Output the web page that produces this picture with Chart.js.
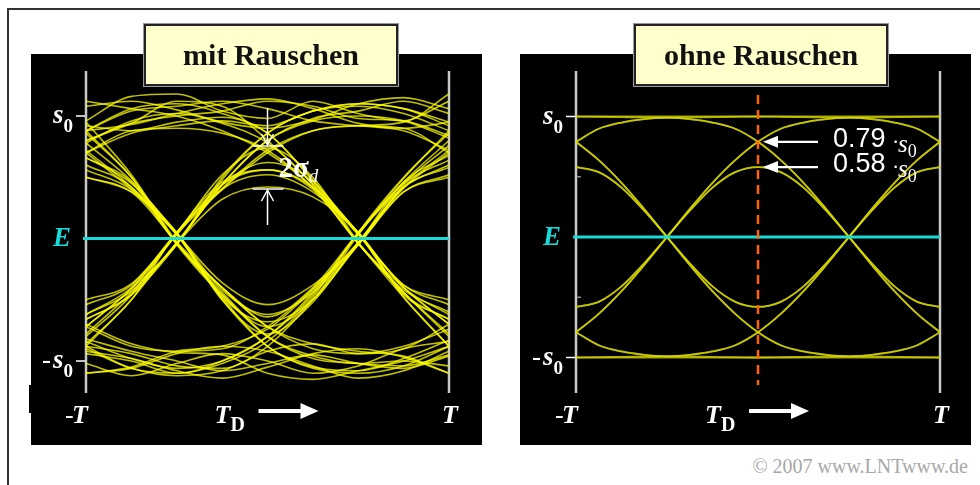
<!DOCTYPE html>
<html>
<head>
<meta charset="utf-8">
<title>Augendiagramm mit und ohne Rauschen</title>
<script src="https://cdn.jsdelivr.net/npm/chart.js"></script>
<style>
  body { margin: 0; background: #fff; }
  #page { position: relative; width: 980px; height: 485px; overflow: hidden; background: #fff; }
  .frame { position: absolute; left: 7px; top: 8px; width: 1000px; height: 500px; border-left: 2px solid #333; border-top: 2px solid #333; }
  .panel { position: absolute; top: 54px; width: 451px; height: 391px; background: #000; }
  .panel canvas { position: absolute; left: 0; top: 0; }
  .notch { position: absolute; left: 29px; top: 385px; width: 3px; height: 28px; background: #000; }
  .title { position: absolute; top: 24px; width: 250px; height: 58px; background: #ffffcc; border: 2px solid #222;
           box-shadow: 0 0 0 1px #999; font: bold 30px "Liberation Serif", serif; line-height: 58px;
           text-align: center; color: #111; z-index: 2; }
  .copy { position: absolute; right: 12px; top: 455px; font: 20px "Liberation Serif", serif; color: #a8a8a8; }
</style>
</head>
<body>
<div id="page">
  <div class="frame"></div>
  <div class="notch"></div>
  <div class="panel" style="left:31px"><canvas id="eyeNoisy" width="451" height="391"></canvas></div>
  <div class="panel" style="left:520px"><canvas id="eyeClean" width="451" height="391"></canvas></div>
  <div class="title" style="left:144px">mit Rauschen</div>
  <div class="title" style="left:634px">ohne Rauschen</div>
  <div class="copy">© 2007 www.LNTwww.de</div>
</div>
<script>
// time axis in units of T, amplitude in units of s0
const tNoisy = [-1, -0.75, -0.5, -0.25, 0, 0.25, 0.5, 0.75, 1];
const tClean = [-1, -0.875, -0.75, -0.625, -0.5, -0.375, -0.25, -0.125, 0,
                0.125, 0.25, 0.375, 0.5, 0.625, 0.75, 0.875, 1];
const timeTicks = [-1, 1];        // -T and T
const levelTicks = [1, -1];       // s0 and -s0
const minorTicks = [0.5, -0.5];
const thresholdE = 0;
const sampleTime = 0;             // T_D
const cleanMarks = [0.79, 0.58];  // eye values without noise
const noiseBand = [0.755, 0.404]; // 2 sigma_d marker

// traces with noise
const noisy01 = [1.08, 1.12, 1.05, 0.95, 0.90, 0.97, 1.10, 1.15, 1.06];
const noisy02 = [0.92, 0.88, 0.95, 0.99, 0.86, 0.47, 0.04, -0.45, -0.66];
const noisy03 = [0.86, 0.50, -0.04, -0.40, -0.64, -0.40, 0.05, 0.49, 0.88];
const noisy04 = [0.70, 0.40, 0.03, -0.50, -0.88, -1.05, -1.08, -0.98, -0.83];
const noisy05 = [-0.66, -0.46, -0.05, 0.50, 0.86, 1.04, 1.10, 1.06, 0.95];
const noisy06 = [-0.62, -0.40, 0.04, 0.52, 0.74, 0.50, -0.03, -0.42, -0.60];
const noisy07 = [-0.88, -1.06, -1.10, -1.02, -0.84, -0.48, 0.05, 0.50, 0.86];
const noisy08 = [-0.70, -0.86, -0.93, -0.95, -1.10, -1.15, -1.08, -1.00, -0.88];
const noisy09 = [-0.92, -0.98, -1.08, -1.14, -1.05, -0.94, -0.90, -0.97, -1.10];
const noisy10 = [-1.10, -1.05, -0.92, -0.88, -0.74, -0.42, -0.05, 0.38, 0.52];
const noisy11 = [-0.72, -0.41, 0.03, 0.44, 0.62, 0.46, -0.04, -0.40, -0.70];
const noisy12 = [-0.86, -0.50, 0.05, 0.41, 0.72, 0.88, 0.92, 0.90, 0.70];
const noisy13 = [0.50, 0.38, -0.03, -0.40, -0.72, -0.86, -0.92, -0.96, -1.10];
const noisy14 = [0.66, 0.46, -0.05, -0.46, -0.72, -0.50, 0.03, 0.45, 0.64];
const noisy15 = [0.70, 0.88, 0.90, 0.86, 0.72, 0.41, -0.04, -0.48, -0.88];
const noisy16 = [0.88, 1.04, 1.08, 1.12, 1.06, 0.96, 0.92, 0.88, 0.72];
const noisy17 = [0.88, 0.93, 1.02, 1.10, 1.14, 1.06, 0.94, 0.90, 0.95];
const noisy18 = [1.12, 1.06, 1.00, 0.88, 0.70, 0.42, 0.03, -0.38, -0.50];
const noisy19 = [0.72, 0.42, 0.05, -0.50, -0.78, -0.52, -0.03, 0.41, 0.70];
const noisy20 = [0.88, 0.50, -0.04, -0.40, -0.72, -0.90, -0.94, -0.88, -0.74];
const noisy21 = [-0.50, -0.37, 0.04, 0.40, 0.70, 0.88, 0.92, 0.95, 1.12];
const noisy22 = [-0.66, -0.46, -0.04, 0.32, 0.42, 0.34, 0.05, -0.46, -0.66];
const noisy23 = [-0.72, -0.88, -0.92, -0.90, -0.72, -0.41, -0.03, 0.42, 0.72];
const noisy24 = [-0.90, -1.06, -1.12, -1.08, -0.92, -0.86, -0.94, -0.90, -0.70];
const noisy25 = [-1.10, -1.06, -0.94, -0.88, -0.92, -1.04, -1.14, -1.08, -0.92];
const noisy26 = [-0.88, -0.94, -1.04, -1.06, -0.88, -0.50, -0.04, 0.46, 0.68];
const noisy27 = [-0.88, -0.50, -0.03, 0.40, 0.52, 0.38, 0.04, -0.48, -0.88];
const noisy28 = [-0.72, -0.41, -0.05, 0.48, 0.86, 1.04, 1.08, 1.02, 0.88];
const noisy29 = [0.66, 0.45, 0.04, -0.48, -0.88, -1.06, -1.10, -1.04, -0.88];
const noisy30 = [0.50, 0.38, 0.03, -0.48, -0.68, -0.50, -0.05, 0.38, 0.50];
const noisy31 = [0.88, 1.06, 1.10, 1.02, 0.86, 0.48, 0.04, -0.40, -0.70];
const noisy32 = [0.70, 0.86, 0.92, 0.96, 0.92, 1.04, 1.10, 1.06, 0.92];
const noisy33 = [0.96, 1.16, 1.18, 1.04, 0.98, 1.12, 1.02, 0.96, 1.18];
const noisy34 = [0.80, 0.94, 1.12, 1.08, 0.80, 0.44, 0.05, -0.40, -0.62];
const noisy35 = [0.78, 0.47, 0.04, -0.36, -0.54, -0.38, -0.04, 0.44, 0.76];
const noisy36 = [0.95, 0.52, -0.03, -0.46, -0.80, -0.98, -1.02, -1.04, -0.95];
const noisy37 = [-0.62, -0.43, -0.04, 0.44, 0.80, 0.98, 1.04, 1.12, 1.02];
const noisy38 = [-0.54, -0.38, 0.05, 0.44, 0.56, 0.42, 0.04, -0.38, -0.54];
const noisy39 = [-0.84, -0.98, -1.06, -1.00, -0.80, -0.44, 0.04, 0.46, 0.80];
const noisy40 = [-0.82, -0.92, -1.00, -1.08, -1.02, -0.95, -1.02, -1.06, -0.96];
const noisy41 = [-1.02, -1.12, -1.02, -0.94, -1.00, -1.10, -1.04, -0.90, -0.84];
const noisy42 = [-0.94, -1.00, -1.10, -1.00, -0.80, -0.46, 0.04, 0.42, 0.60];
const noisy43 = [-0.80, -0.46, 0.05, 0.46, 0.56, 0.40, -0.04, -0.44, -0.78];
const noisy44 = [-0.78, -0.44, -0.04, 0.44, 0.80, 0.96, 1.00, 0.96, 0.82];
const noisy45 = [0.60, 0.42, -0.04, -0.44, -0.80, -0.96, -1.02, -1.00, -1.04];
const noisy46 = [0.56, 0.40, 0.04, -0.42, -0.62, -0.44, -0.05, 0.42, 0.58];
const noisy47 = [0.78, 0.96, 1.02, 0.94, 0.78, 0.44, -0.04, -0.44, -0.80];
const noisy48 = [0.80, 0.94, 1.00, 1.04, 1.12, 1.08, 0.98, 0.96, 0.84];

// traces without noise (right picture)
const clean01 = [1, 1, 1, 1, 1, 1, 1, 1, 1, 1, 1, 1, 1, 1, 1, 1, 1];
const clean02 = [1.0, 0.998, 0.995, 0.992, 0.99, 0.978, 0.95, 0.898, 0.79, 0.638, 0.45, 0.232, 0, -0.218, -0.41, -0.538, -0.58];
const clean03 = [0.79, 0.638, 0.45, 0.232, 0, -0.218, -0.41, -0.538, -0.58, -0.538, -0.41, -0.218, 0, 0.232, 0.45, 0.638, 0.79];
const clean04 = [0.79, 0.638, 0.45, 0.232, 0, -0.232, -0.45, -0.638, -0.79, -0.898, -0.95, -0.978, -0.99, -0.978, -0.95, -0.898, -0.79];
const clean05 = [-0.58, -0.538, -0.41, -0.218, 0, 0.232, 0.45, 0.638, 0.79, 0.898, 0.95, 0.978, 0.99, 0.992, 0.995, 0.998, 1.0];
const clean06 = [-0.58, -0.538, -0.41, -0.218, 0, 0.218, 0.41, 0.538, 0.58, 0.538, 0.41, 0.218, 0, -0.218, -0.41, -0.538, -0.58];
const clean07 = [-0.79, -0.898, -0.95, -0.978, -0.99, -0.978, -0.95, -0.898, -0.79, -0.638, -0.45, -0.232, 0, 0.232, 0.45, 0.638, 0.79];
const clean08 = [-0.79, -0.898, -0.95, -0.978, -0.99, -0.992, -0.995, -0.998, -1.0, -0.998, -0.995, -0.992, -0.99, -0.978, -0.95, -0.898, -0.79];
const clean09 = [-1, -1, -1, -1, -1, -1, -1, -1, -1, -1, -1, -1, -1, -1, -1, -1, -1];
const clean10 = [-1.0, -0.998, -0.995, -0.992, -0.99, -0.978, -0.95, -0.898, -0.79, -0.638, -0.45, -0.232, 0, 0.218, 0.41, 0.538, 0.58];
const clean11 = [-0.79, -0.638, -0.45, -0.232, 0, 0.218, 0.41, 0.538, 0.58, 0.538, 0.41, 0.218, 0, -0.232, -0.45, -0.638, -0.79];
const clean12 = [-0.79, -0.638, -0.45, -0.232, 0, 0.232, 0.45, 0.638, 0.79, 0.898, 0.95, 0.978, 0.99, 0.978, 0.95, 0.898, 0.79];
const clean13 = [0.58, 0.538, 0.41, 0.218, 0, -0.232, -0.45, -0.638, -0.79, -0.898, -0.95, -0.978, -0.99, -0.992, -0.995, -0.998, -1.0];
const clean14 = [0.58, 0.538, 0.41, 0.218, 0, -0.218, -0.41, -0.538, -0.58, -0.538, -0.41, -0.218, 0, 0.218, 0.41, 0.538, 0.58];
const clean15 = [0.79, 0.898, 0.95, 0.978, 0.99, 0.978, 0.95, 0.898, 0.79, 0.638, 0.45, 0.232, 0, -0.232, -0.45, -0.638, -0.79];
const clean16 = [0.79, 0.898, 0.95, 0.978, 0.99, 0.992, 0.995, 0.998, 1.0, 0.998, 0.995, 0.992, 0.99, 0.978, 0.95, 0.898, 0.79];

const noisyTraces = [noisy01, noisy02, noisy03, noisy04, noisy05, noisy06, noisy07, noisy08,
  noisy09, noisy10, noisy11, noisy12, noisy13, noisy14, noisy15, noisy16,
  noisy17, noisy18, noisy19, noisy20, noisy21, noisy22, noisy23, noisy24,
  noisy25, noisy26, noisy27, noisy28, noisy29, noisy30, noisy31, noisy32,
  noisy33, noisy34, noisy35, noisy36, noisy37, noisy38, noisy39, noisy40,
  noisy41, noisy42, noisy43, noisy44, noisy45, noisy46, noisy47, noisy48];
const cleanTraces = [clean01, clean02, clean03, clean04, clean05, clean06, clean07, clean08,
  clean09, clean10, clean11, clean12, clean13, clean14, clean15, clean16];

const SERIF = '"Liberation Serif", serif';
const SANS = '"Liberation Sans", sans-serif';
const CYAN = '#19d9d9';

function seg(ctx, x1, y1, x2, y2) {
  ctx.beginPath();
  ctx.moveTo(x1, y1);
  ctx.lineTo(x2, y2);
  ctx.stroke();
}

// text with a subscript
function withIndex(ctx, base, idx, x, y, dy, baseFont, idxFont) {
  ctx.font = baseFont;
  ctx.fillText(base, x, y);
  const w = ctx.measureText(base).width;
  ctx.font = idxFont;
  ctx.fillText(idx, x + w, y + dy);
}

const eyeDecor = {
  id: 'eyeDecor',
  beforeDatasetsDraw(chart, args, opts) {
    const ctx = chart.ctx, a = chart.chartArea, xs = chart.scales.x, ys = chart.scales.y;
    const ax = xs.getPixelForValue(timeTicks[0]);
    ctx.save();
    ctx.strokeStyle = '#c8c8c8';
    ctx.lineWidth = 2.5;
    timeTicks.forEach(function (v) {
      const px = xs.getPixelForValue(v);
      seg(ctx, px, a.top, px, a.bottom);
    });
    ctx.strokeStyle = '#ffffff';
    ctx.lineWidth = 1.5;
    levelTicks.forEach(function (v) {
      const py = ys.getPixelForValue(v);
      seg(ctx, ax - 10, py, ax - 1, py);
    });
    if (opts.minor) {
      ctx.strokeStyle = '#8a8a8a';
      minorTicks.forEach(function (v) {
        const py = ys.getPixelForValue(v);
        seg(ctx, ax + 1, py, ax + 5, py);
      });
    }
    ctx.restore();
  },
  afterDatasetsDraw(chart, args, opts) {
    const ctx = chart.ctx, a = chart.chartArea, xs = chart.scales.x, ys = chart.scales.y;
    const ax = xs.getPixelForValue(timeTicks[0]);
    const bx = xs.getPixelForValue(timeTicks[1]);
    const cx = xs.getPixelForValue(sampleTime);
    const yE = ys.getPixelForValue(thresholdE);
    ctx.save();
    ctx.textBaseline = 'alphabetic';
    ctx.textAlign = 'left';

    // decision threshold E
    ctx.strokeStyle = CYAN;
    ctx.lineWidth = 3;
    seg(ctx, ax - 3, yE, bx, yE);

    // amplitude labels
    ctx.fillStyle = '#ffffff';
    const yP = ys.getPixelForValue(levelTicks[0]);
    const yN = ys.getPixelForValue(levelTicks[1]);
    withIndex(ctx, 's', '0', ax - 33, yP + 7, 9, 'italic bold 27px ' + SERIF, 'bold 19px ' + SERIF);
    ctx.font = '27px ' + SERIF;
    ctx.fillText('-', ax - 44, yN + 7);
    withIndex(ctx, 's', '0', ax - 33, yN + 7, 9, 'italic bold 27px ' + SERIF, 'bold 19px ' + SERIF);
    ctx.fillStyle = CYAN;
    ctx.font = 'italic bold 27px ' + SERIF;
    ctx.fillText('E', ax - 33, yE + 8);

    // time labels
    ctx.fillStyle = '#ffffff';
    const by = a.bottom + 30;
    ctx.font = '26px ' + SERIF;
    ctx.fillText('-', ax - 21, by);
    ctx.font = 'italic bold 26px ' + SERIF;
    ctx.fillText('T', ax - 14, by);
    ctx.fillText('T', bx - 7, by);
    withIndex(ctx, 'T', 'D', cx - 53, by, 8, 'italic bold 26px ' + SERIF, 'bold 20px ' + SERIF);
    const ay = a.bottom + 18;
    ctx.strokeStyle = '#ffffff';
    ctx.lineWidth = 4;
    seg(ctx, cx - 9, ay, cx + 36, ay);
    ctx.beginPath();
    ctx.moveTo(cx + 33, ay - 8);
    ctx.lineTo(cx + 51, ay);
    ctx.lineTo(cx + 33, ay + 8);
    ctx.closePath();
    ctx.fill();

    if (opts.band) {
      const yT = ys.getPixelForValue(noiseBand[0]);
      const yB = ys.getPixelForValue(noiseBand[1]);
      ctx.lineWidth = 1.5;
      seg(ctx, cx - 15, yT, cx + 16, yT);
      seg(ctx, cx - 15, yB, cx + 16, yB);
      seg(ctx, cx, yT - 38, cx, yT - 1);
      ctx.beginPath();
      ctx.moveTo(cx - 6, yT - 12); ctx.lineTo(cx, yT - 1); ctx.lineTo(cx + 6, yT - 12);
      ctx.stroke();
      seg(ctx, cx, yB + 1, cx, yB + 36);
      ctx.beginPath();
      ctx.moveTo(cx - 6, yB + 12); ctx.lineTo(cx, yB + 1); ctx.lineTo(cx + 6, yB + 12);
      ctx.stroke();
      withIndex(ctx, '2σ', 'd', cx + 11, yB - 12, 5, 'bold 29px ' + SERIF, 'italic 19px ' + SERIF);
    }

    if (opts.marks) {
      ctx.strokeStyle = '#ff6400';
      ctx.lineWidth = 2.5;
      ctx.setLineDash([9, 6]);
      seg(ctx, cx, a.top + 24, cx, a.bottom - 8);
      ctx.setLineDash([]);
      ctx.strokeStyle = '#ffffff';
      cleanMarks.forEach(function (v) {
        const py = ys.getPixelForValue(v);
        ctx.lineWidth = 2.2;
        seg(ctx, cx + 60, py, cx + 16, py);
        ctx.beginPath();
        ctx.moveTo(cx + 5, py);
        ctx.lineTo(cx + 20, py - 6);
        ctx.lineTo(cx + 20, py + 6);
        ctx.closePath();
        ctx.fill();
        ctx.font = '27px ' + SANS;
        ctx.fillText(v.toFixed(2), cx + 75, py + 5);
        ctx.font = '22px ' + SANS;
        ctx.fillText('·', cx + 134, py + 6);
        withIndex(ctx, 's', '0', cx + 140, py + 10, 5, 'italic 25px ' + SERIF, '18px ' + SERIF);
      });
    }
    ctx.restore();
  }
};

function eyeChart(canvasId, labels, traces, color, width, yMin, yMax, pad, decor) {
  return new Chart(document.getElementById(canvasId), {
    type: 'line',
    data: {
      labels: labels,
      datasets: traces.map(function (tr) {
        return {
          data: tr,
          borderColor: color,
          borderWidth: width,
          pointRadius: 0,
          fill: false,
          cubicInterpolationMode: 'monotone'
        };
      })
    },
    options: {
      responsive: false,
      animation: false,
      events: [],
      layout: { padding: pad },
      plugins: {
        legend: { display: false },
        tooltip: { enabled: false },
        eyeDecor: decor
      },
      scales: {
        x: { type: 'linear', min: -1, max: 1, display: false },
        y: { min: yMin, max: yMax, display: false }
      }
    },
    plugins: [eyeDecor]
  });
}

eyeChart('eyeNoisy', tNoisy, noisyTraces, 'rgba(255,255,0,0.75)', 1.6, -1.2612, 1.3673,
  { left: 55, right: 33, top: 17, bottom: 52 }, { band: true, marks: false, minor: false });
eyeChart('eyeClean', tClean, cleanTraces, 'rgba(215,215,0,0.72)', 1.8, -1.2946, 1.3776,
  { left: 56, right: 31, top: 17, bottom: 52 }, { band: false, marks: true, minor: true });
</script>
</body>
</html>
